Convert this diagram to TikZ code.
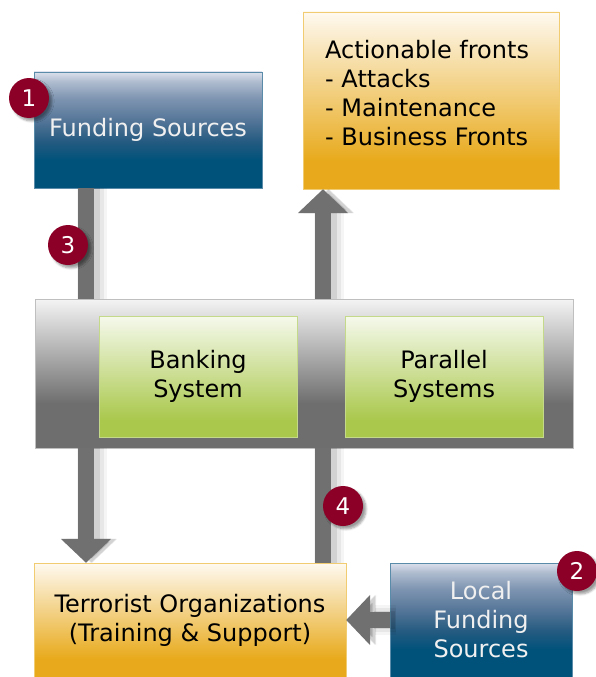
\documentclass[tikz,border=0pt]{standalone}
\usepackage{fontspec}
\setmainfont{DejaVu Sans}
\usetikzlibrary{arrows.meta,shadows.blur}

\definecolor{fundblue}{HTML}{00527B}
\definecolor{funddeep}{HTML}{245A80}
\definecolor{fundmid}{HTML}{58789A}
\definecolor{fundlight}{HTML}{8096B2}
\definecolor{fundpale}{HTML}{B0BDD0}
\definecolor{fundtop}{HTML}{DCE0EC}
\definecolor{fundline}{HTML}{5A8CAA}
\definecolor{frontorange}{HTML}{E8AA1C}
\definecolor{fronttop}{HTML}{FEF9F0}
\definecolor{frontline}{HTML}{F2CC70}
\definecolor{sysgreen}{HTML}{AAC84C}
\definecolor{systop}{HTML}{F5F9EC}
\definecolor{sysline}{HTML}{C4DA8A}
\definecolor{boxgray}{HTML}{6E6E6E}
\definecolor{boxtop}{HTML}{F4F4F4}
\definecolor{bargray}{HTML}{707070}
\definecolor{badgered}{HTML}{8C0027}

\pgfdeclareverticalshading{blueshade}{100bp}{color(0bp)=(fundblue); color(37bp)=(fundblue); color(45bp)=(funddeep); color(55bp)=(fundmid); color(64bp)=(fundlight); color(71bp)=(fundpale); color(75bp)=(fundtop); color(100bp)=(fundtop)}
\pgfdeclareverticalshading{orangeshade}{100bp}{color(0bp)=(frontorange); color(33bp)=(frontorange); color(75bp)=(fronttop); color(100bp)=(fronttop)}
\pgfdeclareverticalshading{greenshade}{100bp}{color(0bp)=(sysgreen); color(32bp)=(sysgreen); color(75bp)=(systop); color(100bp)=(systop)}
\pgfdeclareverticalshading{grayshade}{100bp}{color(0bp)=(boxgray); color(40bp)=(boxgray); color(75bp)=(boxtop); color(100bp)=(boxtop)}

\begin{document}
\begin{tikzpicture}[x=1pt,y=-1pt,
  box/.style={rectangle, inner sep=0pt, align=center, font=\fontsize{24}{29}\selectfont},
  bluebox/.style={box, draw=fundline, shading=blueshade, text=white!94!black},
  orangebox/.style={box, draw=frontline, shading=orangeshade},
  greenbox/.style={box, draw=sysline, shading=greenshade, minimum width=198pt, minimum height=121pt},
  graybox/.style={box, draw=black!25, shading=grayshade},
  bar/.style={draw=bargray, line width=16pt,
    preaction={draw=black, opacity=0.04, line width=30pt, transform canvas={xshift=6pt}},
    preaction={draw=black, opacity=0.06, line width=24pt, transform canvas={xshift=6pt}},
    preaction={draw=black, opacity=0.09, line width=18pt, transform canvas={xshift=5pt}}},
  arrowbar/.style={bar, -{Triangle[width=49pt,length=24pt]}},
  badge/.style={circle, fill=badgered, text=white, minimum size=40pt, inner sep=0pt,
    font=\fontsize{23}{23}\selectfont,
    blur shadow={shadow xshift=3pt, shadow yshift=-3pt, shadow blur steps=6}}]
  \useasboundingbox (0,0) rectangle (595,677);

  \node[bluebox, minimum width=228pt, minimum height=116pt] (fund) at (148,130) {Funding Sources};
  \node[orangebox, minimum width=256pt, minimum height=177pt] (front) at (431,100.5) {};
  \node[box, anchor=west, align=left] (fronttxt) at (325,93)
    {Actionable fronts\\- Attacks\\- Maintenance\\- Business Fronts};

  \node[graybox, minimum width=538pt, minimum height=149pt] (sys) at (304,373.5) {};
  \node[greenbox] (bank) at (198,376.5) {Banking\\System};
  \node[greenbox] (para) at (444,376.5) {Parallel\\Systems};

  \node[orangebox, minimum width=312pt, minimum height=114pt] (terr) at (190,620)
    {Terrorist Organizations\\(Training \& Support)};
  \node[bluebox, minimum width=182pt, minimum height=114pt] (local) at (481,620)
    {Local\\Funding\\Sources};

  \coordinate (lx) at (86,0);
  \coordinate (rx) at (323,0);

  \draw[bar] (fund.south -| lx) -- (sys.north -| lx);
  \draw[arrowbar] (sys.south -| lx) -- (terr.north -| lx);
  \draw[arrowbar] (sys.north -| rx) -- (front.south -| rx);
  \draw[bar] (terr.north -| rx) -- (sys.south -| rx);
  \draw[arrowbar] (local.west) -- (terr.east);

  \node[badge] (b1) at (29,98) {1};
  \node[badge] (b2) at (577,571) {2};
  \node[badge] (b3) at (68,245) {3};
  \node[badge] (b4) at (343,506) {4};
\end{tikzpicture}
\end{document}
